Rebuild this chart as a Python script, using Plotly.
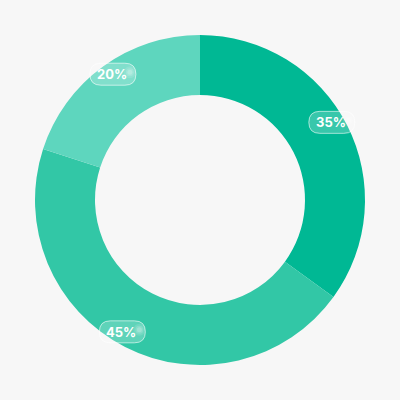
import math
import plotly.graph_objects as go

labels = ["A", "B", "C"]
values = [35, 45, 20]
colors = ["#00b894", "#32c7a6", "#5ed6be"]

W = H = 400
cx, cy = 200, 200
outer_r = 165
hole = 105 / 165
label_r = 153
label_nudge_deg = [-3.5, 3.5, 1.3]

fig = go.Figure(go.Pie(
    labels=labels, values=values, sort=False, direction="clockwise", rotation=0,
    hole=hole, marker=dict(colors=colors, line=dict(width=0)),
    textinfo="none", hoverinfo="label+percent",
    domain=dict(x=[(cx - outer_r) / W, (cx + outer_r) / W], y=[(cy - outer_r) / H, (cy + outer_r) / H]),
    showlegend=False,
))


def rounded(x0p, y0p, x1p, y1p, r):
    x0, x1 = x0p / W, x1p / W
    y0, y1 = 1 - y1p / H, 1 - y0p / H
    rx, ry = r / W, r / H
    return (f"M {x0+rx},{y0} L {x1-rx},{y0} Q {x1},{y0} {x1},{y0+ry} "
            f"L {x1},{y1-ry} Q {x1},{y1} {x1-rx},{y1} L {x0+rx},{y1} "
            f"Q {x0},{y1} {x0},{y1-ry} L {x0},{y0+ry} Q {x0},{y0} {x0+rx},{y0} Z")


total = sum(values)
cum = 0
shapes = []
annotations = []
for v, nudge in zip(values, label_nudge_deg):
    mid = (cum + v / 2) / total * 2 * math.pi + math.radians(nudge)
    cum += v
    px = cx + label_r * math.sin(mid)
    py = cy - label_r * math.cos(mid)
    w, h = 46, 22
    shapes.append(dict(type="path", xref="paper", yref="paper",
                       path=rounded(px - w / 2, py - h / 2, px + w / 2, py + h / 2, h / 2),
                       fillcolor="rgba(255,255,255,0.22)",
                       line=dict(color="rgba(255,255,255,0.6)", width=1)))
    # soft highlight on the right side of the pill
    for hr, op in [(6, 0.12), (4, 0.15), (2.5, 0.2)]:
        hx, hy = px + w / 2 - 6, py - 2
        shapes.append(dict(type="circle", xref="paper", yref="paper",
                           x0=(hx - hr) / W, x1=(hx + hr) / W,
                           y0=1 - (hy + hr) / H, y1=1 - (hy - hr) / H,
                           fillcolor=f"rgba(255,255,255,{op})", line=dict(width=0)))
    annotations.append(dict(x=(px - 1) / W, y=1 - py / H, xref="paper", yref="paper",
                            xanchor="center", yanchor="middle",
                            text=f"{round(v / total * 100)}%", showarrow=False,
                            font=dict(family="Inter", size=13, color="white", weight="bold")))

fig.update_layout(
    width=W, height=H, margin=dict(l=0, r=0, t=0, b=0),
    paper_bgcolor="#f7f7f7", plot_bgcolor="#f7f7f7",
    shapes=shapes, annotations=annotations,
)
fig.write_html("out.html", config={"displayModeBar": False},
               post_script="document.body.style.margin='0';")
